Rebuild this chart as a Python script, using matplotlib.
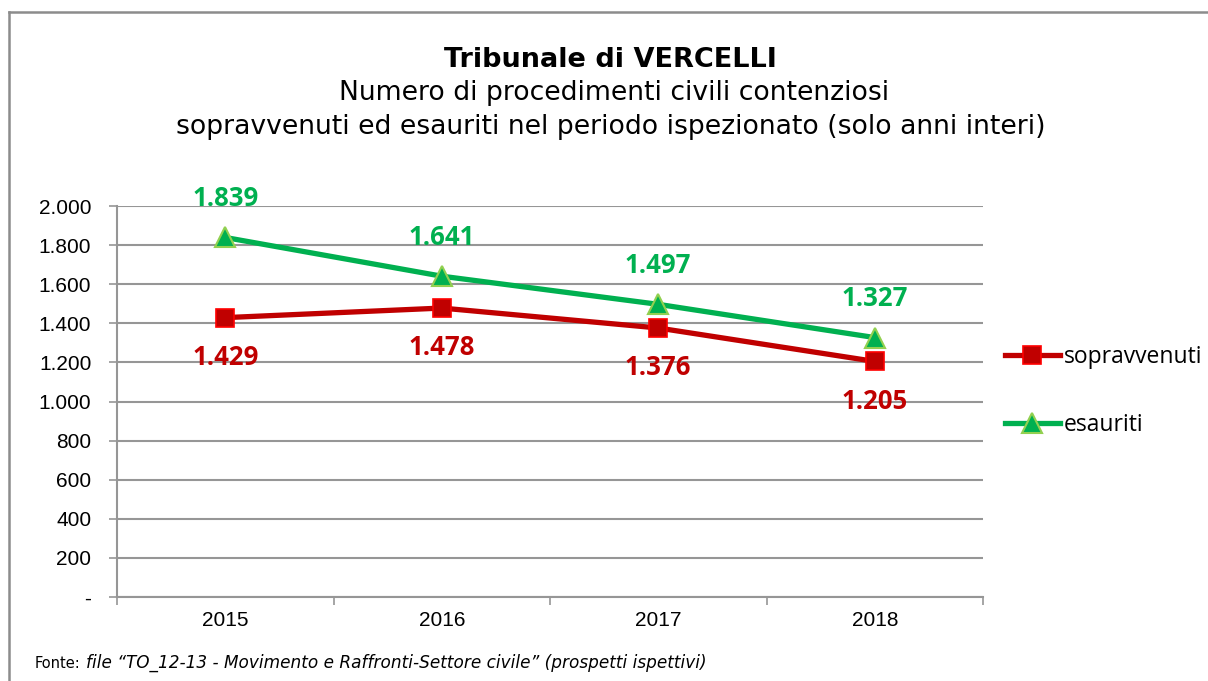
import matplotlib.pyplot as plt
from matplotlib.lines import Line2D

years = ["2015", "2016", "2017", "2018"]
sopravvenuti = [1429, 1478, 1376, 1205]
esauriti = [1839, 1641, 1497, 1327]
y_ticks = [0, 200, 400, 600, 800, 1000, 1200, 1400, 1600, 1800, 2000]

RED = "#C00000"
GREEN = "#00B050"
GRID = "#969696"


def fmt(v):
    # italian thousands separator, zero shown as dash
    if v == 0:
        return "-"
    return f"{v:,}".replace(",", ".")


fig = plt.figure(figsize=(12.08, 6.81), dpi=100)
ax = fig.add_axes([117 / 1208, 1 - 597 / 681, 866 / 1208, 391 / 681])

x = list(range(len(years)))
ax.plot(x, sopravvenuti, color=RED, lw=3.8, marker="s", ms=13,
        mfc=RED, mec="#FF0000", mew=1.2, label="sopravvenuti", zorder=3)
ax.plot(x, esauriti, color=GREEN, lw=3.8, marker="^", ms=15,
        mfc=GREEN, mec="#92D050", mew=1.5, label="esauriti", zorder=3)

# data labels
for i, v in enumerate(esauriti):
    ax.annotate(fmt(v), (i, v), xytext=(0, 28), textcoords="offset points",
                ha="center", va="center", color=GREEN, fontsize=18.5,
                fontweight="bold", family="Open Sans")
for i, v in enumerate(sopravvenuti):
    ax.annotate(fmt(v), (i, v), xytext=(0, -28.5), textcoords="offset points",
                ha="center", va="center", color=RED, fontsize=18.5,
                fontweight="bold", family="Open Sans")

ax.set_xlim(-0.5, 3.5)
ax.set_ylim(0, 2000)
ax.set_yticks(y_ticks)
ax.set_yticklabels([fmt(v) for v in y_ticks], family="Liberation Sans", fontsize=15)
ax.set_xticks(x)
ax.set_xticklabels(years, family="Liberation Sans", fontsize=15)
ax.tick_params(axis="x", length=0, pad=10)
ax.set_xticks([-0.5, 0.5, 1.5, 2.5, 3.5], minor=True)
ax.tick_params(axis="x", which="minor", length=6, color=GRID, width=1.2)
ax.tick_params(axis="y", length=6, color=GRID, width=1.2, pad=12.5)
ax.grid(axis="y", color=GRID, lw=1.5)
ax.set_axisbelow(True)
for s in ["top", "right"]:
    ax.spines[s].set_visible(False)
for s in ["left", "bottom"]:
    ax.spines[s].set_color(GRID)
    ax.spines[s].set_linewidth(1.5)

leg = fig.legend(loc="center left", bbox_to_anchor=(984 / 1208, 1 - 391 / 681),
                 frameon=False, prop={"family": "Open Sans", "size": 16.5},
                 handlelength=2.4, handletextpad=0.17, labelspacing=1.95)

# titles
fig.text(0.505, 1 - 60 / 681, "Tribunale di VERCELLI", ha="center", va="center",
         fontsize=19.5, fontweight="bold", family="DejaVu Sans")
fig.text(0.508, 1 - 93 / 681, "Numero di procedimenti civili contenziosi",
         ha="center", va="center", fontsize=19.2, family="DejaVu Sans")
fig.text(0.506, 1 - 127 / 681,
         "sopravvenuti ed esauriti nel periodo ispezionato (solo anni interi)",
         ha="center", va="center", fontsize=19.2, family="DejaVu Sans")

# source note
fig.text(35 / 1208, 1 - 663 / 681, "Fonte:", ha="left", va="center",
         fontsize=10.5, family="DejaVu Sans")
fig.text(86 / 1208, 1 - 663 / 681,
         "file \u201cTO_12-13 - Movimento e Raffronti-Settore civile\u201d (prospetti ispettivi)",
         ha="left", va="center", fontsize=12.2, family="DejaVu Sans", style="italic")

# outer frame (cut at right and bottom)
fig.add_artist(Line2D([9 / 1208, 1], [1 - 12 / 681, 1 - 12 / 681], color="#8C8C8C", lw=1.8))
fig.add_artist(Line2D([9 / 1208, 9 / 1208], [0, 1 - 12 / 681], color="#8C8C8C", lw=1.8))

fig.savefig("out.png", dpi=100)
